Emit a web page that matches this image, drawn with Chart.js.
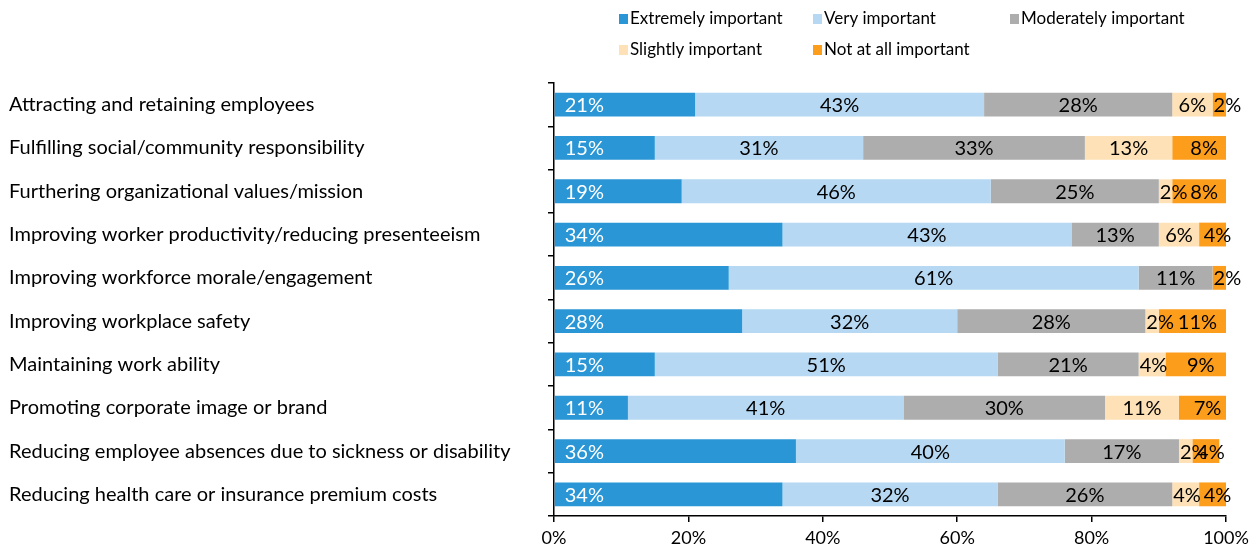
<!DOCTYPE html>
<html lang="en">
<head>
  <meta charset="UTF-8">
  <title>Importance of workplace health program objectives</title>
  <script src="https://cdn.jsdelivr.net/npm/chart.js"></script>
  <style>
    html, body { margin: 0; padding: 0; background: #fff; }
    #wrap { position: relative; width: 1260px; height: 546px; }
  </style>
</head>
<body>
<div id="wrap"><canvas id="importanceChart"></canvas></div>
<script>
  // Survey categories and response shares (%)
  const reasons = [
    'Attracting and retaining employees',
    'Fulfilling social/community responsibility',
    'Furthering organizational values/mission',
    'Improving worker productivity/reducing presenteeism',
    'Improving workforce morale/engagement',
    'Improving workplace safety',
    'Maintaining work ability',
    'Promoting corporate image or brand',
    'Reducing employee absences due to sickness or disability',
    'Reducing health care or insurance premium costs'
  ];
  const levels = ['Extremely important', 'Very important', 'Moderately important', 'Slightly important', 'Not at all important'];
  const extremely  = [21, 15, 19, 34, 26, 28, 15, 11, 36, 34];
  const very       = [43, 31, 46, 43, 61, 32, 51, 41, 40, 32];
  const moderately = [28, 33, 25, 13, 11, 28, 21, 30, 17, 26];
  const slightly   = [6, 13, 2, 6, 0, 2, 4, 11, 2, 4];
  const notAtAll   = [2, 8, 8, 4, 2, 11, 9, 7, 4, 4];
  const xTicks = [0, 20, 40, 60, 80, 100];

  const colors = ['#2A96D5', '#B6D8F2', '#ADADAD', '#FEE1B6', '#FC9D1C'];
  const FONT = 'Lato, "Open Sans", sans-serif';

  // legend laid out in a 3-column grid above the plot
  const gridLegend = {
    id: 'gridLegend',
    afterDraw(chart) {
      const ctx = chart.ctx;
      const cols = [619, 813, 1010];
      const rows = [19, 50];
      ctx.save();
      ctx.font = '17px ' + FONT;
      ctx.textBaseline = 'middle';
      ctx.textAlign = 'left';
      chart.data.datasets.forEach((ds, i) => {
        const x = cols[i % 3], y = rows[Math.floor(i / 3)];
        ctx.fillStyle = ds.backgroundColor;
        ctx.fillRect(x, y - 5, 9, 10);
        ctx.fillStyle = '#000';
        ctx.fillText(ds.label, x + 11, y);
      });
      ctx.restore();
    }
  };

  // percentage labels inside each segment
  const segmentLabels = {
    id: 'segmentLabels',
    afterDatasetsDraw(chart) {
      const ctx = chart.ctx;
      const right = chart.chartArea.right;
      ctx.save();
      ctx.font = '20px ' + FONT;
      ctx.textBaseline = 'middle';
      ctx.textAlign = 'left';
      chart.data.datasets.forEach((ds, di) => {
        const meta = chart.getDatasetMeta(di);
        meta.data.forEach((bar, i) => {
          const v = ds.data[i];
          if (!v) return;
          const p = bar.getProps(['x', 'y', 'base'], true);
          const start = Math.min(p.base, p.x);
          const end = Math.min(Math.max(p.base, p.x), right);
          const txt = v + '%';
          const w = ctx.measureText(txt).width;
          let left;
          if (di === 0) {
            left = start + 10;
            ctx.fillStyle = '#fff';
          } else {
            const shift = di === 4 ? 5 : 0;
            left = Math.max(start + 1, (start + end) / 2 + shift - w / 2);
            ctx.fillStyle = '#000';
          }
          ctx.fillText(txt, left, p.y + 1);
        });
      });
      ctx.restore();
    }
  };

  const series = [extremely, very, moderately, slightly, notAtAll];

  new Chart(document.getElementById('importanceChart').getContext('2d'), {
    type: 'bar',
    data: {
      labels: reasons,
      datasets: series.map((d, i) => ({
        label: levels[i],
        data: d,
        backgroundColor: colors[i],
        borderWidth: 0,
        barPercentage: 0.55,
        categoryPercentage: 1,
        clip: 0
      }))
    },
    options: {
      indexAxis: 'y',
      responsive: true,
      maintainAspectRatio: false,
      animation: false,
      layout: { padding: { top: 83, left: 9, right: 34, bottom: 0 } },
      plugins: { legend: { display: false }, tooltip: { enabled: false } },
      scales: {
        x: {
          stacked: true,
          min: xTicks[0],
          max: xTicks[xTicks.length - 1],
          afterBuildTicks: s => { s.ticks = xTicks.map(v => ({ value: v })); },
          afterFit: s => { s.height = 30; },
          ticks: { callback: v => v + '%', color: '#000', font: { family: FONT, size: 18 }, padding: 5, maxRotation: 0 },
          grid: { drawOnChartArea: false, tickLength: 6, color: '#000', lineWidth: 1.5 },
          border: { color: '#000', width: 1.5 }
        },
        y: {
          stacked: true,
          afterFit: s => { s.width = 545; },
          ticks: { crossAlign: 'far', color: '#000', font: { family: FONT, size: 20 } },
          grid: { drawOnChartArea: false, offset: true, tickLength: 6, color: '#000', lineWidth: 1.5 },
          border: { color: '#000', width: 1.5 }
        }
      }
    },
    plugins: [gridLegend, segmentLabels]
  });
</script>
</body>
</html>
